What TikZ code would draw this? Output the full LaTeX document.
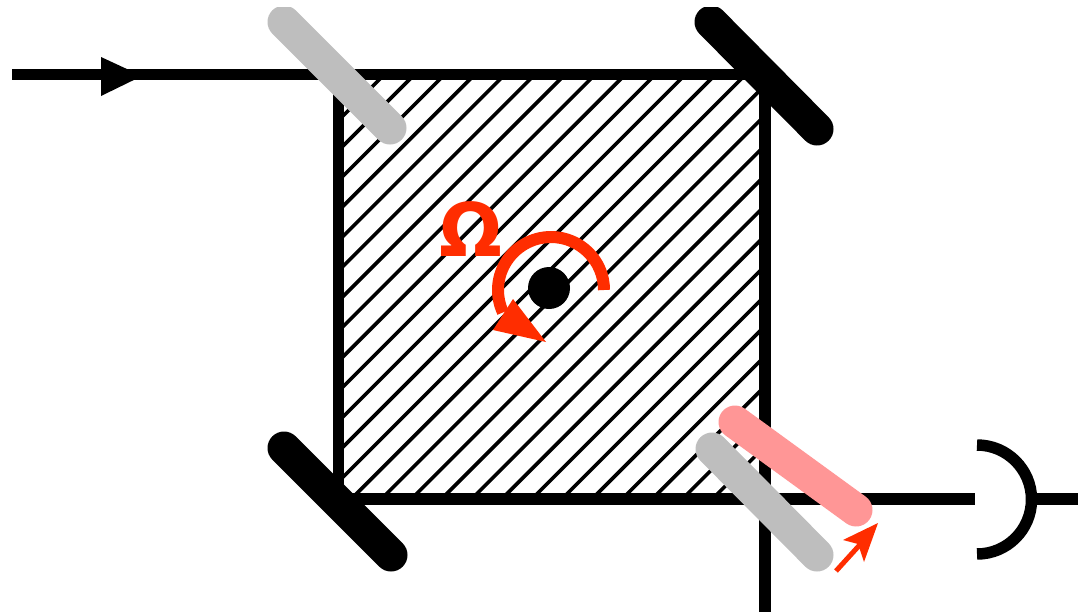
\documentclass[tikz,border=0pt]{standalone}
\usepackage{fontspec}
\setmainfont{DejaVu Sans}
\definecolor{redmark}{RGB}{255,45,0}
\definecolor{greymirror}{RGB}{190,190,190}
\definecolor{pinkmirror}{RGB}{255,150,150}
\tikzset{
  beam/.style={line width=11.5pt,black},
  hatchline/.style={line width=3.6pt,black},
  mirror/.style={line width=33pt,line cap=round,black},
  splitter/.style={line width=33pt,line cap=round,greymirror},
}
\begin{document}
\begin{tikzpicture}[x=1pt,y=-1pt]
\useasboundingbox (0,0) rectangle (1078,611);
\coordinate (in) at (12,74.5);
\coordinate (tl) at (338.5,74.5);
\coordinate (tr) at (765,74.5);
\coordinate (bl) at (338.5,499);
\coordinate (br) at (765,499);
\coordinate (down) at (765,611);
\coordinate (det) at (975,499);
\coordinate (out) at (1078,499);
\begin{scope}
  \clip (tl) rectangle (br);
  \foreach \s in {-3,-2,...,27} {
    \pgfmathsetmacro{\sv}{489+\s*30.1}
    \draw[hatchline] (\sv,0) -- (\sv-700,700);
  }
\end{scope}
\draw[beam] (in) -- (tr);
\draw[beam,line cap=rect] (tr) -- (down);
\draw[beam,line cap=rect] (tl) -- (bl);
\draw[beam] (bl) -- (det);
\draw[beam] (1030,499) -- (out);
\draw[line width=11.5pt] (977,445) arc[start angle=-90,end angle=90,radius=54.5];
\fill (101,57) -- (142,76) -- (101,96) -- cycle;
\begin{scope}
  \clip (0,7) rectangle (1078,611);
  \draw[splitter] (284,22) -- (390,128);
  \draw[mirror] (711,22) -- (817,129);
\end{scope}
\draw[mirror] (284,448) -- (391,555);
\draw[splitter] (712,449) -- (817,555);
\draw[line width=33pt,line cap=round,pinkmirror] (735,422) -- (856,510);
\fill (549,288) circle (21);
\draw[line width=12pt,redmark] (604,290) arc[start angle=0,end angle=-205,radius=53];
\fill[redmark] (493,330) -- (513,299) -- (546,342) -- cycle;
\node[text=redmark,font=\fontsize{74}{74}\selectfont\bfseries,inner sep=0pt] (omega) at (471,229) {Ω};
\draw[line width=5pt,redmark] (836,571) -- (866,538);
\fill[redmark] (878,523) -- (843,540) -- (858,544) -- (864,562) -- cycle;
\end{tikzpicture}
\end{document}
